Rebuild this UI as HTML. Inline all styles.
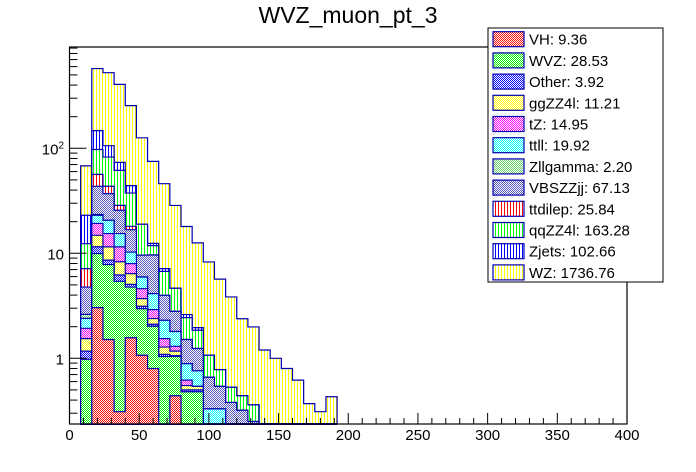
<!DOCTYPE html>
<html><head><meta charset="utf-8"><style>
html,body{margin:0;padding:0;background:#fff;}
svg{display:block;font-family:"Liberation Sans",Arial,sans-serif;}
</style></head><body>
<svg id="chart" width="696" height="472" viewBox="0 0 696 472" xmlns="http://www.w3.org/2000/svg">
<defs id="defs"></defs>
<rect x="0" y="0" width="696" height="472" fill="#fff"/>
<text x="348" y="23" font-size="23" text-anchor="middle" fill="#000">WVZ_muon_pt_3</text>
<g id="stack"></g>
<g id="axes"></g>
<g id="legend"></g>
</svg>
<script>
// bins: 8 GeV wide, first bin starts at 8
const binStart = 8;
const binWidth = 8;
const layerNames = ["VH","WVZ","Other","ggZZ4l","tZ","ttll","Zllgamma","VBSZZjj","ttdilep","qqZZ4l","Zjets","WZ"];
const legendLabels = ["VH: 9.36","WVZ: 28.53","Other: 3.92","ggZZ4l: 11.21","tZ: 14.95","ttll: 19.92","Zllgamma: 2.20","VBSZZjj: 67.13","ttdilep: 25.84","qqZZ4l: 163.28","Zjets: 102.66","WZ: 1736.76"];
const vhVals     = [0,3.04,1.51,0.31,1.57,1.07,0.80,0,0.44,0,0,0,0,0,0,0,0,0,0,0,0,0,0];
const wvzVals    = [0.98,6.9,6.3,5.1,3.2,1.9,1.22,1.04,0.6,0.48,0.48,0.1,0.1,0.1,0.1,0.05,0,0,0,0,0,0,0];
const otherVals  = [0.19,1.6,0.8,0.8,0.29,0.16,0.09,0.05,0.02,0.02,0.02,0,0,0,0,0,0,0,0,0,0,0,0];
const ggzzVals   = [0.37,3.3,2.9,2.1,1.34,0.57,0.28,0.19,0.11,0.05,0.04,0.05,0.05,0,0,0,0,0,0,0,0,0,0];
const tzVals     = [0.39,4.4,3.9,3.2,1.58,0.9,0.52,0.26,0.13,0.07,0,0.05,0.05,0,0,0,0,0,0,0,0,0,0];
const ttllVals   = [0.47,3.8,5.2,3.9,2.3,1.35,1.22,0.76,0.5,0.27,0.22,0.13,0.13,0.1,0.1,0,0,0,0,0,0,0,0];
const zllgVals   = [0.22,0.4,0,0,0,0,0,0,0,0,0,0,0,0,0,0,0,0,0,0,0,0,0];
const vbsVals    = [2.15,20,16.4,10.3,6.5,3.65,5.5,1.68,1.0,0.62,0.48,0.33,0.21,0.18,0.12,0.2,0.1,0,0,0,0,0,0];
const ttdilepVals= [2.37,13,6.5,2.9,1.3,0,0,0,0,0,0,0,0,0,0,0,0,0,0,0,0,0,0];
const qqzzVals   = [5.2,41,39,33,19.4,9.3,2.2,2.75,1.85,0.93,0.61,0.41,0.24,0.15,0.12,0.11,0,0,0,0,0,0,0];
const zjetsVals  = [10.7,50,23.4,11.8,6.6,0,0.6,0.41,0,0.17,0.11,0,0,0,0,0,0,0,0,0,0,0,0];
const wzVals     = [45,427,419,333,211,107,62.6,38.9,23.9,15.4,10.6,7.2,4.9,3.31,1.94,1.63,1.1,1.0,0.80,0.62,0.37,0.31,0.43];
const xTicks = [0,50,100,150,200,250,300,350,400];
const yTicksMajor = [1,10,100];

const series = [vhVals,wvzVals,otherVals,ggzzVals,tzVals,ttllVals,zllgVals,vbsVals,ttdilepVals,qqzzVals,zjetsVals,wzVals];
const styles = [
 {c:"#ff0000",t:"chk"},{c:"#00ee00",t:"chk"},{c:"#0000ff",t:"chk"},{c:"#ffff00",t:"chk"},
 {c:"#ff00ff",t:"chk"},{c:"#00ffff",t:"chk"},{c:"#66cc66",t:"chk"},{c:"#5555bb",t:"chk"},
 {c:"#ff0000",t:"hatch"},{c:"#00ff00",t:"hatch"},{c:"#0000ff",t:"hatch"},{c:"#ffff00",t:"hatch"}];

const X0=69.5, X1=627, Y0=424, Y1=47;
const yMinV = Math.pow(10,(358.3-Y0)/105);
function xs(v){return X0+(v/400)*(X1-X0);}
function ys(v){ if(v<=yMinV) return Y0; let y=358.3-105*Math.log10(v); return Math.max(Y1,Math.min(Y0,y)); }
const NS="http://www.w3.org/2000/svg";
function mk(tag,attrs,parent){const e=document.createElementNS(NS,tag);for(const k in attrs)e.setAttribute(k,attrs[k]);parent.appendChild(e);return e;}

const defs=document.getElementById('defs');
styles.forEach((s,i)=>{
  const p=mk('pattern',{id:'pat'+i,patternUnits:'userSpaceOnUse',width:s.t==='chk'?2:3,height:s.t==='chk'?2:3},defs);
  mk('rect',{x:0,y:0,width:3,height:3,fill:'#fff'},p);
  if(s.t==='chk'){mk('rect',{x:0,y:0,width:1,height:1,fill:s.c},p);mk('rect',{x:1,y:1,width:1,height:1,fill:s.c},p);}
  else{mk('rect',{x:0,y:0,width:1,height:3,fill:s.c},p);}
});

// cumulative
const nb=wzVals.length;
const cum=[]; let run=new Array(nb).fill(0);
series.forEach(arr=>{run=run.map((r,i)=>r+arr[i]);cum.push(run.slice());});

const stack=document.getElementById('stack');
for(let L=series.length-1;L>=0;L--){
  let d=`M${xs(binStart)},${Y0}`;
  for(let i=0;i<nb;i++){
    const lo=binStart+i*binWidth, hi=lo+binWidth, y=ys(cum[L][i]);
    d+=` L${xs(lo)},${y} L${xs(hi)},${y}`;
  }
  d+=` L${xs(binStart+nb*binWidth)},${Y0} Z`;
  const g=mk('g',{},stack);
  
  
  mk('path',{d:d,fill:'#fff'},g);
  mk('path',{d:d,fill:'url(#pat'+L+')',stroke:'#0000b0','stroke-width':1.2},g);
}

// axes
const axes=document.getElementById('axes');
const frame=mk('rect',{x:X0,y:Y1,width:X1-X0,height:Y0-Y1,fill:'none',stroke:'#000','stroke-width':1.2},axes);


for(let v=0;v<=400;v+=10){
  const major=(v%50===0);
  mk('line',{x1:xs(v),x2:xs(v),y1:Y0,y2:Y0-(major?11:6),stroke:'#000','stroke-width':1},axes);
}
xTicks.forEach(v=>{
  const t=mk('text',{x:xs(v),y:440,'font-size':15,'text-anchor':'middle',fill:'#000'},axes);
  t.textContent=v;
  
  
});
for(let dec=0.1;dec<=1000;dec*=10){
  for(let m=1;m<=9;m++){
    const v=dec*m; const y=358.3-105*Math.log10(v);
    if(y<Y1-0.5||y>Y0+0.5) continue;
    mk('line',{x1:X0,x2:X0+(m===1?17:8),y1:y,y2:y,stroke:'#000','stroke-width':1},axes);
  }
}
yTicksMajor.forEach(v=>{
  const y=ys(v)+6;
  const t=mk('text',{x:64,y:y,'font-size':15,'text-anchor':'end',fill:'#000'},axes);
  if(v===100){t.textContent='10';const s=mk('tspan',{dy:-6,'font-size':10},t);s.textContent='2';}
  else t.textContent=v;
  
  
});

// legend
const leg=document.getElementById('legend');
const box=mk('rect',{x:488,y:28,width:175,height:254,fill:'#fff',stroke:'#000','stroke-width':1},leg);


legendLabels.forEach((lab,i)=>{
  const y=31.7+i*21.2;
  const g=mk('g',{},leg);
  
  
  mk('rect',{x:493,y:y,width:31,height:15,fill:'#fff'},g);
  mk('rect',{x:493,y:y,width:31,height:15,fill:'url(#pat'+i+')',stroke:'#0000b0','stroke-width':1.2},g);
  const t=mk('text',{x:529,y:y+13,'font-size':15,fill:'#000'},g);
  t.textContent=lab;
});
</script>
</body></html>
